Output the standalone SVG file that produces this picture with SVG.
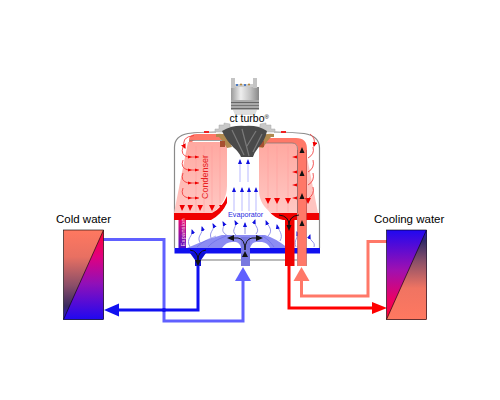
<svg xmlns="http://www.w3.org/2000/svg" width="500" height="400" viewBox="0 0 500 400">
<defs>
<linearGradient id="warmCold" x1="0" y1="0" x2="0" y2="1"><stop offset="0" stop-color="#ff7860"/><stop offset=".3" stop-color="#e87062"/><stop offset=".62" stop-color="#8a4e68"/><stop offset=".85" stop-color="#3a2a60"/><stop offset="1" stop-color="#2a10e0"/></linearGradient>
<linearGradient id="hotBlue" x1="0" y1="0" x2="0" y2="1"><stop offset="0" stop-color="#ff0030"/><stop offset=".3" stop-color="#e00080"/><stop offset=".6" stop-color="#9010b8"/><stop offset="1" stop-color="#2008f0"/></linearGradient>
<linearGradient id="blueDark" x1="0" y1="0" x2="0" y2="1"><stop offset="0" stop-color="#2810e0"/><stop offset=".12" stop-color="#302a68"/><stop offset=".35" stop-color="#8a5068"/><stop offset=".65" stop-color="#f07462"/><stop offset="1" stop-color="#ff7860"/></linearGradient>
<linearGradient id="blueHot" x1="0" y1="0" x2="0" y2="1"><stop offset="0" stop-color="#2008f0"/><stop offset=".45" stop-color="#a010b0"/><stop offset=".8" stop-color="#f00060"/><stop offset="1" stop-color="#ff0030"/></linearGradient>
<linearGradient id="cond" x1="0" y1="0" x2="0" y2="1"><stop offset="0" stop-color="#ffa8a0"/><stop offset="1" stop-color="#ffc8c4"/></linearGradient>
<linearGradient id="metal" x1="0" y1="0" x2="1" y2="0"><stop offset="0" stop-color="#9a9a9a"/><stop offset=".35" stop-color="#eeeeee"/><stop offset=".7" stop-color="#c0c0c0"/><stop offset="1" stop-color="#888"/></linearGradient>
<linearGradient id="exp" x1="0" y1="0" x2="0" y2="1"><stop offset="0" stop-color="#e80a70"/><stop offset="1" stop-color="#5010c8"/></linearGradient>
<marker id="r" markerUnits="userSpaceOnUse" markerWidth="5" markerHeight="5" refX="4" refY="2.500" orient="auto"><path d="M0 0L5 2.500L0 5Z" fill="#f00000"/></marker>
<marker id="b" markerUnits="userSpaceOnUse" markerWidth="5" markerHeight="5" refX="4" refY="2.500" orient="auto"><path d="M0 .5L5 2.500L0 4.500Z" fill="#1010e0"/></marker>
</defs>
<style>
text{font-family:"Liberation Sans",Arial,sans-serif}
.lab{font-size:11.5px;fill:#000}
.ht{fill:none;stroke:#000;stroke-width:.6}
.rf{fill:none;stroke:#f03030;stroke-width:.8}
.rh{fill:none;stroke:#f03030;stroke-width:.8;marker-end:url(#r)}
.bf{fill:none;stroke:#8a8ae8;stroke-width:.9;marker-end:url(#b)}
.up{fill:none;stroke:#dcdcff;stroke-width:2;marker-end:url(#b)}
.rib{stroke:#ff9898;stroke-width:.5;fill:none}
.dk{fill:none;stroke:#111;stroke-width:1}
.tr{fill:#f00000}
</style>

<g id="connectors" fill="none">
<path d="M103 239.500H164V321H243V280" stroke="#6060ff" stroke-width="3"/>
<path d="M198 266V310H118" stroke="#1010f0" stroke-width="3"/>
<path d="M289 266V308H375" stroke="#ff0000" stroke-width="3"/>
<path d="M301.500 278V296H368V241.500H387" stroke="#ff7868" stroke-width="3"/>
<path d="M104 310L119 303.500V316.500Z" fill="#1010f0"/>
<path d="M235 281L243 267L251 281Z" fill="#6060ff"/>
<path d="M293.500 281L301.500 267L309.500 281Z" fill="#ff7868"/>
<path d="M372 302L387 308L372 314Z" fill="#ff0000"/>
<circle cx="164" cy="310" r="2" fill="#1010f0"/>
</g>

<g id="cold-water">
<text class="lab" x="56" y="223">Cold water</text>
<rect x="63.500" y="230" width="40" height="89.500" fill="url(#warmCold)"/>
<path d="M103.500 230V319.500H63.500Z" fill="url(#hotBlue)"/>
<rect x="63.500" y="230" width="40" height="89.500" class="ht"/>
<path d="M63.500 319.500L103.500 230" class="ht"/>
</g>

<g id="cooling-water">
<text class="lab" x="374" y="223">Cooling water</text>
<rect x="386.500" y="230" width="40" height="89.500" fill="url(#blueHot)"/>
<path d="M426.500 230V319.500H386.500Z" fill="url(#blueDark)"/>
<rect x="386.500" y="230" width="40" height="89.500" class="ht"/>
<path d="M386.500 319.500L426.500 230" class="ht"/>
</g>

<g id="vessel" fill="none">
<path d="M174.500 248V147Q174.500 136 188 133.500Q200 132 216 132M274 132Q290 132 304 133.500Q319.500 136 319.500 148V248" stroke="#8a8a8a" stroke-width="1.200"/>
<path d="M201 260H241M250 260H285M294 260H297" stroke="#bbb" stroke-width="1.800"/>
<rect x="204" y="131" width="5" height="2" fill="#f02020"/><rect x="281" y="131" width="5" height="2" fill="#f02020"/>
</g>

<g id="condenser">
<path d="M188 142H227V186Q227 203 212 213H174Z" fill="url(#cond)"/>
<path d="M259 143H298V213H272Q259 205 259 190Z" fill="url(#cond)"/>
<path d="M307 157L318 213H306Z" fill="#ffc4c0"/>
<path d="M189 142V139Q190 134 197 134H225V140H196Q193 140 192 142Z" fill="#ff7868"/>
<path d="M189 141Q190 140 196 140.500H226" fill="none" stroke="#777" stroke-width=".7"/>
<path d="M263 138H296Q307 138 307 149V213H298V149Q298 143 292 143H263Z" fill="#ff7868"/>
<path d="M259 143H292Q297.500 143 297.500 149V213" fill="none" stroke="#777" stroke-width=".7"/>
<path class="rib" d="M196 146V212M204 146V212M212 146V212M220 146V203M268 146V208M277 146V212M288 146V212"/>
<path d="M174 213H212Q222 208 227 196V203Q222 214 211 220H174Z" fill="#f00000"/>
<path d="M271 213H297V220H283Q274 218 268 210Z" fill="#f00000"/>
<rect x="306" y="213" width="13" height="7" fill="#f00000"/>
<text x="208" y="177" transform="rotate(-90 208 177)" text-anchor="middle" font-size="9" fill="#e82020">Condenser</text>
</g>

<g id="condenser-flows">
<path class="rh" d="M194 135.500Q180 137 185 148"/>
<path class="rf" d="M183 147Q180 155 188 157"/><path class="rf" d="M183 160Q180 168 188 170"/><path class="rf" d="M183 173Q180 181 188 183"/><path class="rf" d="M183 188Q180 196 188 198"/>
<path class="rf" d="M188 157H199M188 170H199M188 183H199M188 198H199"/>
<path class="tr" d="M188 155.500L192 157L188 158.500ZM195 155.500L199 157L195 158.500ZM188 168.500L192 170L188 171.500ZM195 168.500L199 170L195 171.500ZM188 181.500L192 183L188 184.500ZM195 181.500L199 183L195 184.500ZM188 196.500L192 198L188 199.500ZM195 196.500L199 198L195 199.500Z"/>
<path class="tr" d="M179.500 205H185L182 211ZM187.500 205H193L190 211ZM197.500 205H203L200 211ZM209 205H215L212 211ZM219 205H225L222 211Z"/>
<path class="rh" d="M310 134Q316 138 314 146"/>
<path class="rf" d="M313 147Q315 154 308 158"/><path class="rf" d="M313 160Q315 168 308 172"/><path class="rf" d="M313 173Q315 181 308 185"/><path class="rf" d="M313 187Q315 194 308 199"/>
<path class="tr" d="M297 155.500L292 157L297 158.500ZM297 170.500L292 172L297 173.500ZM297 183.500L292 185L297 186.500ZM297 196.500L292 198L297 199.500Z"/>
<path class="tr" d="M265 198H271L268 204ZM274 198H280L277 204ZM285 198H291L288 204ZM305 198H311L308 204Z"/>
</g>

<g id="evaporator">
<rect x="174.500" y="248" width="145.500" height="5.500" fill="#1010f0"/>
<path fill-rule="evenodd" d="M187 248Q210 238 222 235H265Q275 238 288 248ZM222 248Q226 242 232 242H236Q240 243 241 248ZM250 248Q252 242 256 242H262Q268 243 270 248Z" fill="#8c8cf2"/>
<path d="M197 247C204 240 212 238 216 236M208 247C214 240 222 238 226 236M274 247C270 241 266 238 262 236" fill="none" stroke="#6060e0" stroke-width=".5"/>
<rect x="178.500" y="220" width="7.500" height="28" fill="url(#exp)"/>
<text x="184.500" y="246.500" transform="rotate(-90 184.500 246.500)" font-size="6" fill="#ffd8e8">Expansion</text>
<path class="up" d="M234 212V188"/><path class="up" d="M242 212V188"/><path class="up" d="M249 212V188"/><path class="up" d="M256 212V188"/>
<path class="up" d="M240 182V160"/><path class="up" d="M248 182V160"/>
<rect x="228" y="211" width="35" height="8" fill="#fff"/>
<text x="228" y="217" font-size="7.200" fill="#2a2ae0">Evaporator</text>
<path class="bf" d="M190 247C185 238 194 236 192 230"/><path class="bf" d="M201 244C195 236 204 234 202 227"/><path class="bf" d="M212 240C207 232 216 230 213 224"/>
<path class="bf" d="M228 236C218 230 226 228 223 222"/><path class="bf" d="M236 235C230 230 238 227 235 221"/><path class="bf" d="M245 234V223"/><path class="bf" d="M256 234C261 228 253 226 255 220"/>
<path class="bf" d="M268 236C274 230 268 226 266 221"/><path class="bf" d="M280 241C284 234 278 230 277 225"/><path class="bf" d="M296 247C293 240 299 238 297 232"/><path class="bf" d="M314 247C316 241 308 241 310 235"/>
</g>

<g id="pipes">
<path d="M190 253H206L201 260V266H195V260Z" fill="#1010d0"/>
<rect x="241" y="237" width="9" height="29" fill="#7878e0"/>
<rect x="285" y="220" width="9.500" height="46" fill="#f00000"/>
<rect x="297.500" y="213" width="9" height="53" fill="#ff7868"/>
<path d="M297.500 150V266M306.500 150V266" stroke="#a04848" stroke-width=".5"/>
<path d="M190 250Q198 251 198 260M206 250Q198 251 198 260" class="dk"/><path d="M195 260H201L198 266Z" fill="#111"/>
<path d="M232 238H238Q245 239 245 250M258 238H252Q245 239 245 250" class="dk"/><path d="M234 235V241L227 238ZM256 235V241L263 238ZM242 257H248L245 251Z" fill="#111"/>
<path d="M279 215Q289 216 289 225M299 215Q289 216 289 225" class="dk"/><path d="M286.500 225H291.500L289 231Z" fill="#111"/>
<path d="M299.500 153L302 147L304.500 153ZM299.500 176L302 170L304.500 176ZM299.500 199L302 193L304.500 199ZM299.500 226L302 220L304.500 226Z" fill="#111"/>
</g>

<g id="compressor">
<path d="M215 129H219V125H224V123L230 124V127H260V124L266 123V125H271V129H275V132H266L258 137H231L224 132H215Z" fill="#c8c8c8" stroke="#aaa" stroke-width=".5"/>
<path d="M216 134Q222 133 226 135Q230 141 232 147L227 148Q224 142 219 137H216Z" fill="#b08a50"/>
<path d="M274 134Q268 133 264 135Q260 141 258 147L263 148Q266 142 271 137H274Z" fill="#b08a50"/>
<rect x="220" y="141" width="5" height="6" fill="#a85030"/><rect x="259" y="141" width="5" height="6" fill="#a85030"/>
<path d="M222 131Q232 125 245 126Q258 125 267 131Q265 141 258 148Q254 153 253 157H241Q239 152 233 147Q226 140 222 131Z" fill="#4a4a4a"/>
<path d="M232 130L244 155M242 129L249 156M256 131L247 146M262 134L253 152" stroke="#7a7a7a" stroke-width="1.200"/>
<rect x="231" y="87" width="28" height="23" fill="url(#metal)"/>
<rect x="231" y="100" width="28" height="10" fill="#aaa"/>
<rect x="231" y="102" width="28" height="1" fill="#666"/><rect x="231" y="105" width="28" height="1" fill="#777"/><rect x="231" y="108" width="28" height="1" fill="#666"/>
<path d="M233 110H257L255 115H235Z" fill="#ddd"/>
<rect x="231" y="78" width="4" height="10" fill="#c4c4c4"/><rect x="253" y="78" width="4" height="10" fill="#c4c4c4"/>
<rect x="235" y="84" width="18" height="3" fill="#ccc"/>
<circle cx="237" cy="85" r="1" fill="#2060c0"/><circle cx="241" cy="84.500" r="1" fill="#b08030"/><circle cx="245" cy="85" r="1" fill="#2060c0"/><circle cx="249" cy="84.500" r="1" fill="#b08030"/>
<text x="229.500" y="122" font-size="10.500" fill="#000">ct turbo<tspan font-size="6" dy="-3">®</tspan></text>
</g>
</svg>
